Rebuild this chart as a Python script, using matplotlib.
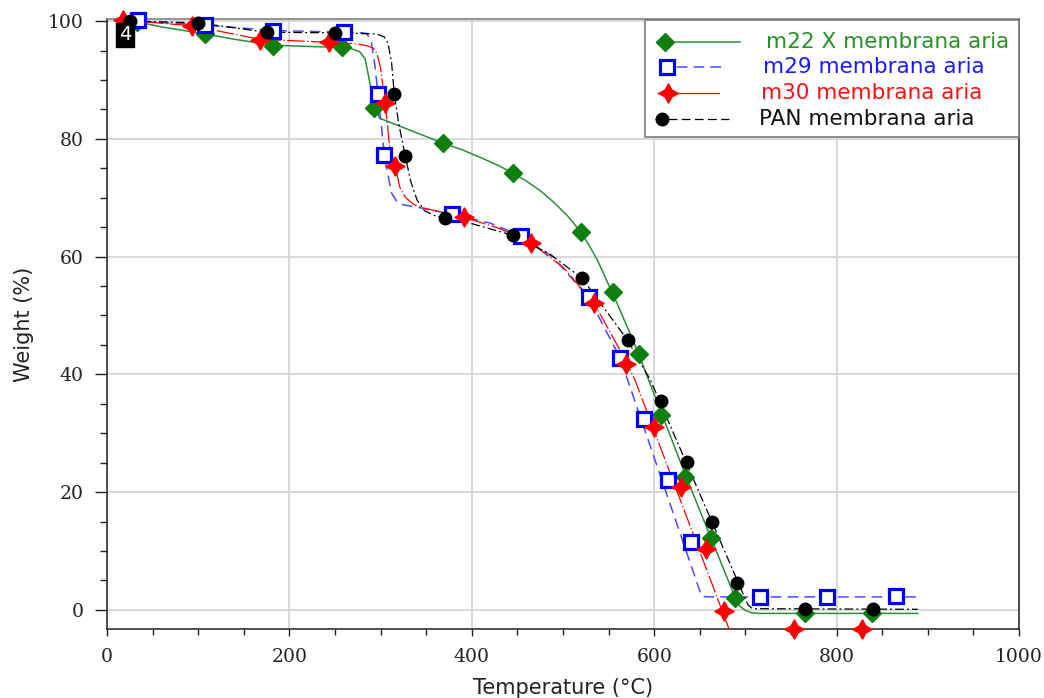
import matplotlib
matplotlib.use("Agg")
import matplotlib.pyplot as plt
from matplotlib.lines import Line2D
from matplotlib.patches import Rectangle
from matplotlib.ticker import MultipleLocator

# ---- m22 X membrana aria (green) ----
m22_t = [20, 35, 60, 108, 140, 182, 220, 258, 268, 277, 283, 287, 290, 294, 299,
         330, 368, 390, 410, 430, 445, 460, 475, 490, 505, 512, 520, 528, 538,
         548, 555, 565, 575, 583, 594, 608, 634, 662, 689, 694, 700, 707, 715, 889]
m22_w = [100.0, 99.8, 99.0, 97.8, 96.9, 95.9, 95.7, 95.5, 95.3, 94.8, 93.6, 90.5,
         88.0, 85.3, 83.5, 81.6, 79.3, 78.1, 76.8, 75.4, 74.2, 72.8, 71.2, 69.2,
         66.9, 65.6, 64.0, 62.1, 59.3, 55.9, 53.6, 50.0, 46.4, 43.4, 39.0, 33.4,
         23.0, 12.3, 2.0, 0.6, -0.1, -0.5, -0.6, -0.6]
m22_mt = [33, 108, 182, 258, 293, 368, 445, 520, 555, 583, 608, 634, 662, 689, 765, 839]
m22_mw = [99.9, 97.8, 95.8, 95.6, 85.3, 79.3, 74.2, 64.1, 54.0, 43.4, 33.1, 22.6,
          12.2, 2.0, -0.6, -0.5]

# ---- m29 membrana aria (blue) ----
m29_t = [20, 34, 108, 182, 260, 280, 285, 290, 294, 297, 301, 304, 307, 312, 318,
         325, 343, 378, 420, 454, 489, 528, 562, 571, 652, 660, 889]
m29_w = [100.1, 100.0, 99.3, 98.4, 98.1, 98.0, 97.9, 96.3, 92.2, 87.6, 82.0, 77.2,
         74.7, 70.8, 69.3, 68.8, 68.3, 67.2, 65.7, 63.5, 59.9, 53.1, 43.0, 39.0,
         2.3, 2.2, 2.2]
m29_mt = [34, 108, 182, 260, 297, 304, 378, 454, 528, 562, 589, 615, 640, 716, 789, 865]
m29_mw = [100.1, 99.3, 98.3, 98.1, 87.6, 77.2, 67.2, 63.5, 53.1, 42.8, 32.4, 22.0,
          11.6, 2.2, 2.2, 2.4]

# ---- m30 membrana aria (red) ----
m30_t = [17, 93, 168, 243, 275, 285, 292, 296, 300, 302, 305, 310, 316, 321, 327,
         336, 343, 391, 430, 465, 500, 534, 569, 579, 690]
m30_w = [100.2, 99.2, 96.9, 96.4, 96.1, 95.8, 95.4, 94.5, 92.0, 89.5, 86.1, 78.6,
         75.4, 71.8, 70.1, 68.9, 68.4, 66.7, 64.8, 62.3, 58.2, 52.1, 42.3, 39.0, -6.5]
m30_mt = [17, 93, 168, 243, 305, 316, 391, 465, 534, 569, 600, 629, 657, 676, 753, 828]
m30_mw = [100.2, 99.2, 96.8, 96.4, 86.1, 75.4, 66.7, 62.3, 52.1, 41.8, 31.1, 20.9,
          10.4, -0.2, -3.2, -3.2]

# ---- PAN membrana aria (black) ----
pan_t = [20, 25, 100, 175, 250, 296, 304, 308, 312, 315, 320, 327, 333, 340, 348,
         360, 371, 400, 445, 485, 521, 570, 596, 697, 703, 708, 889]
pan_w = [100.0, 100.0, 99.7, 98.1, 98.0, 97.8, 97.3, 96.3, 93.0, 87.6, 82.5, 77.1,
         72.8, 69.6, 67.8, 66.9, 66.6, 65.6, 63.6, 60.5, 56.3, 46.0, 39.0, 2.9,
         0.8, 0.2, 0.1]
pan_mt = [25, 100, 175, 250, 315, 327, 371, 445, 521, 571, 607, 636, 663, 691, 765, 840]
pan_mw = [100.0, 99.7, 98.1, 98.0, 87.6, 77.1, 66.6, 63.6, 56.3, 45.8, 35.5, 25.1,
          14.9, 4.6, 0.2, 0.1]

labels = ["m22 X membrana aria", "m29 membrana aria", "m30 membrana aria",
          "PAN membrana aria"]

W, H = 1044, 698
fig = plt.figure(figsize=(W / 100, H / 100), dpi=100)
ax = fig.add_axes([107 / W, (H - 629) / H, (1019 - 107) / W, (629 - 19) / H])

RED = "#ff0000"
BLACK = "#000000"
star4 = (4, 1, 0)

# curves
ax.plot(m22_t, m22_w, color="#2a8f3a", lw=1.1, ls="-", zorder=3)
ax.plot(m29_t, m29_w, color="#4a4aff", lw=1.1, dashes=(7, 4), zorder=3)
ax.plot(m30_t, m30_w, color=RED, lw=0.9, dashes=(14, 2, 1, 2), zorder=3)
ax.plot(pan_t, pan_w, color=BLACK, lw=0.9, dashes=(7, 2.5, 1.5, 2.5), zorder=3)

# markers
mk = dict(ls="none", clip_on=False, zorder=5)
ax.plot(m22_mt, m22_mw, marker="D", ms=9.5, color="#0f7f0f", mec="#0f7f0f", **mk)
ax.plot(m29_mt, m29_mw, marker="s", ms=9.5, mfc="white", mec="#0000ff", mew=2.3, **mk)
ax.plot(m30_mt, m30_mw, marker=star4, ms=14, color=RED, mec=RED, **mk)
ax.plot(pan_mt, pan_mw, marker="o", ms=9, color=BLACK, **mk)

ax.set_xlim(0, 1000)
ax.set_ylim(-3.25, 100.35)

ax.xaxis.set_major_locator(MultipleLocator(200))
ax.xaxis.set_minor_locator(MultipleLocator(50))
ax.yaxis.set_major_locator(MultipleLocator(20))
ax.yaxis.set_minor_locator(MultipleLocator(5))

ax.grid(True, which="major", color="#d6d6d6", lw=1.3, zorder=0)
ax.set_axisbelow(True)

for side in ("left", "bottom", "right"):
    ax.spines[side].set_color("#222222")
    ax.spines[side].set_linewidth(1.1)
ax.spines["top"].set_color("#777777")
ax.spines["top"].set_linewidth(1.1)

ax.tick_params(axis="x", which="major", direction="out", length=5, width=1,
               pad=9, colors="#222222")
ax.tick_params(axis="x", which="minor", direction="out", length=4, width=1,
               colors="#222222")
ax.tick_params(axis="y", which="major", direction="out", length=9, width=1,
               pad=8, colors="#222222")
ax.tick_params(axis="y", which="minor", direction="out", length=5, width=1,
               colors="#222222")
for lab in ax.get_xticklabels() + ax.get_yticklabels():
    lab.set_fontfamily("DejaVu Serif")
    lab.set_fontsize(13.5)
    lab.set_color("#222222")

ax.set_xlabel("Temperature (°C)", fontfamily="DejaVu Sans", fontsize=15,
              color="#222222", labelpad=8)
ax.set_ylabel("Weight (%)", fontfamily="DejaVu Sans", fontsize=15,
              color="#222222", labelpad=10)

# legend box, drawn in axes fractions
def fx(px):
    return (px - 107) / 912


def fy(py):
    return (629 - py) / 610


tr = ax.transAxes
ax.add_patch(Rectangle((fx(645), fy(137)), fx(1019) - fx(645), fy(20) - fy(137),
                       transform=tr, facecolor="white", edgecolor="#7a7a7a",
                       lw=1.2, zorder=8, clip_on=False))

rows = [42, 67, 93, 119]
text_x = [766, 763, 761, 759]
text_c = ["#2a8f2a", "#1a1aff", "#ff1010", "#111111"]

ax.add_line(Line2D([fx(657), fx(740)], [fy(rows[0])] * 2, transform=tr,
                   color="#2a8f3a", lw=1.1, zorder=9))
ax.add_line(Line2D([fx(665)], [fy(rows[0])], transform=tr, marker="D", ms=9.5,
                   color="#0f7f0f", ls="none", zorder=10))
ax.add_line(Line2D([fx(660), fx(724)], [fy(rows[1])] * 2, transform=tr,
                   color="#4a4aff", lw=1.1, dashes=(7, 4), zorder=9))
ax.add_line(Line2D([fx(667)], [fy(rows[1])], transform=tr, marker="s", ms=9.5,
                   mfc="white", mec="#0000ff", mew=2.3, ls="none", zorder=10))
ax.add_line(Line2D([fx(657), fx(728)], [fy(rows[2])] * 2, transform=tr,
                   color=RED, lw=0.9, dashes=(50, 9, 1, 2), zorder=9))
ax.add_line(Line2D([fx(668)], [fy(rows[2])], transform=tr, marker=star4, ms=14,
                   color=RED, ls="none", zorder=10))
ax.add_line(Line2D([fx(655), fx(729)], [fy(rows[3])] * 2, transform=tr,
                   color=BLACK, lw=0.9, dashes=(7, 3.5), zorder=9))
ax.add_line(Line2D([fx(662)], [fy(rows[3])], transform=tr, marker="o", ms=9,
                   color=BLACK, ls="none", zorder=10))

for lab, ry, tx, c in zip(labels, rows, text_x, text_c):
    ax.text(fx(tx), fy(ry), lab, transform=tr, fontfamily="DejaVu Sans",
            fontsize=15.5, color=c, ha="left", va="center", zorder=11)

# small numbered tag in the corner
ax.text(fx(125), fy(35), "4", transform=tr, fontfamily="DejaVu Sans",
        fontsize=14, color="white", ha="center", va="center", zorder=12,
        bbox=dict(boxstyle="square,pad=0.12", facecolor="black", edgecolor="black"))

fig.savefig("out.png", dpi=100, facecolor="white")
